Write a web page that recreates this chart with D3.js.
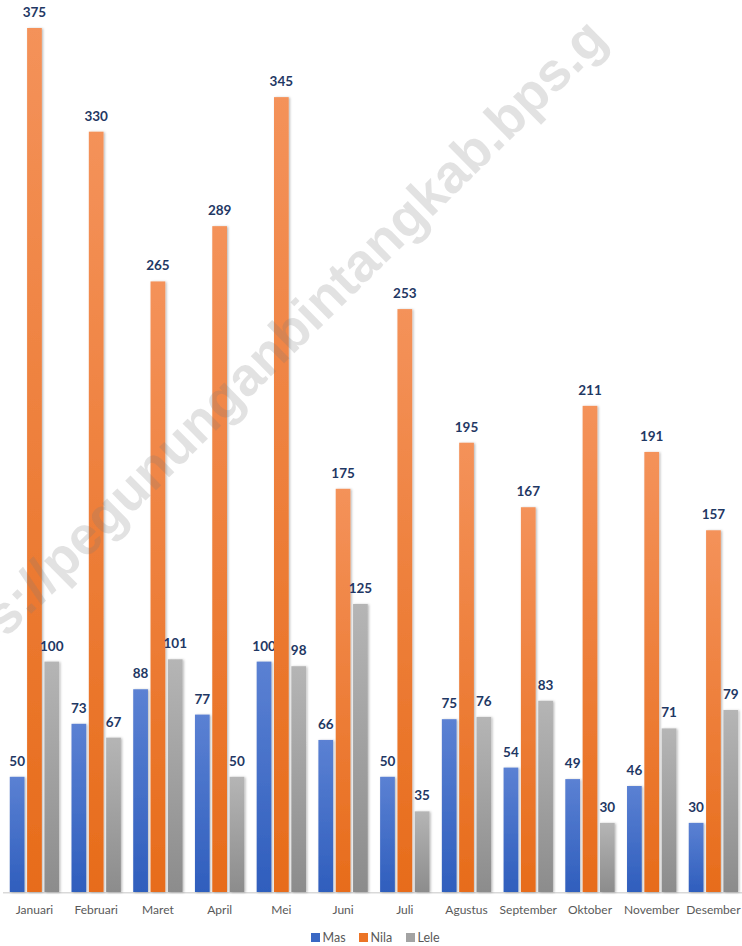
<!DOCTYPE html>
<html>
<head>
<meta charset="utf-8">
<script src="https://cdn.jsdelivr.net/npm/d3@7"></script>
<style>
  html, body { margin: 0; padding: 0; background: #fff; }
  svg { display: block; }
</style>
</head>
<body>
<svg id="chart" width="742" height="946"></svg>
<script>
// Monthly fish production by species
const months = ["Januari", "Februari", "Maret", "April", "Mei", "Juni", "Juli",
                "Agustus", "September", "Oktober", "November", "Desember"];
const seriesNames = ["Mas", "Nila", "Lele"];
const mas  = [50, 73, 88, 77, 100, 66, 50, 75, 54, 49, 46, 30];
const nila = [375, 330, 265, 289, 345, 175, 253, 195, 167, 211, 191, 157];
const lele = [100, 67, 101, 50, 98, 125, 35, 76, 83, 30, 71, 79];
const watermark = "https://pegununganbintangkab.bps.go.id";

const values = { Mas: mas, Nila: nila, Lele: lele };
const colors = {
  Mas:  ["#5B81D3", "#2F5EBD"],
  Nila: ["#F4925A", "#E76C1B"],
  Lele: ["#B5B5B5", "#8C8C8C"]
};
const legendColors = { Mas: "#3A68C4", Nila: "#EC7426", Lele: "#A3A3A3" };

const svg = d3.select("#chart");
const W = 742, baseY = 892;

const defs = svg.append("defs");
seriesNames.forEach(s => {
  const g = defs.append("linearGradient")
    .attr("id", "grad-" + s).attr("x1", 0).attr("y1", 0).attr("x2", 0).attr("y2", 1);
  g.append("stop").attr("offset", "0%").attr("stop-color", colors[s][0]);
  g.append("stop").attr("offset", "100%").attr("stop-color", colors[s][1]);
});
const shadow = defs.append("filter").attr("id", "shadow")
  .attr("x", "-30%").attr("y", "-5%").attr("width", "160%").attr("height", "110%");
shadow.append("feDropShadow").attr("dx", 1.2).attr("dy", 0.5)
  .attr("stdDeviation", 1.1).attr("flood-color", "#000").attr("flood-opacity", 0.28);
// watermark is cut just past ".g", measured along its own baseline
defs.append("clipPath").attr("id", "wm-clip")
  .append("rect").attr("x", -500).attr("y", -100).attr("width", 1452).attr("height", 200);

const x0 = d3.scaleBand().domain(months).range([3.6, 744.3])
  .paddingInner(0.2).paddingOuter(0.1);
const x1 = d3.scaleBand().domain(seriesNames).range([0, x0.bandwidth()])
  .paddingInner(0.15);
const y = d3.scaleLinear().domain([0, 375]).range([baseY, 28]);

// axis baseline
svg.append("line")
  .attr("x1", 3).attr("x2", W).attr("y1", baseY + 0.75).attr("y2", baseY + 0.75)
  .attr("stroke", "#D9D9D9").attr("stroke-width", 1.5);

const groups = svg.append("g").selectAll("g")
  .data(months).join("g")
  .attr("transform", m => `translate(${x0(m)},0)`);

const cells = groups.selectAll("g.cell")
  .data((m, i) => seriesNames.map(s => ({ s, v: values[s][i] })))
  .join("g").attr("class", "cell");

cells.append("rect")
  .attr("x", d => x1(d.s))
  .attr("width", x1.bandwidth())
  .attr("y", d => y(d.v))
  .attr("height", d => baseY - y(d.v))
  .attr("fill", d => `url(#grad-${d.s})`)
  .attr("filter", "url(#shadow)");

cells.append("text")
  .attr("x", d => x1(d.s) + x1.bandwidth() / 2)
  .attr("y", d => y(d.v) - 11)
  .attr("text-anchor", "middle")
  .attr("font-family", "Lato, sans-serif")
  .attr("font-weight", "bold")
  .attr("font-size", 13.5)
  .attr("fill", "#1F3864")
  .text(d => d.v);

// category axis
const xAxis = d3.axisBottom(x0).tickSize(0).tickPadding(0);
const ax = svg.append("g").attr("transform", `translate(0,${baseY})`).call(xAxis);
ax.select(".domain").remove();
ax.selectAll("text")
  .attr("y", 22)
  .attr("dy", 0)
  .attr("font-family", "Lato, sans-serif")
  .attr("font-size", 12)
  .attr("fill", "#595959");

// legend
const legendX = [311, 359, 406];
const legend = svg.append("g").selectAll("g")
  .data(seriesNames).join("g")
  .attr("transform", (s, i) => `translate(${legendX[i]},933)`);
legend.append("rect").attr("width", 9).attr("height", 9)
  .attr("fill", s => legendColors[s]);
legend.append("text")
  .attr("x", 11.5).attr("y", 8.8)
  .attr("font-family", "Lato, sans-serif")
  .attr("font-size", 12.5)
  .attr("fill", "#595959")
  .text(s => s);

// translucent diagonal watermark over the plot
svg.append("g")
  .attr("transform", "translate(-66.4,710.3) rotate(-44.7)")
  .append("text")
  .attr("clip-path", "url(#wm-clip)")
  .attr("font-family", "Liberation Sans, Arial, sans-serif")
  .attr("font-weight", "bold")
  .attr("font-size", 54)
  .attr("fill", "#7A7A7A")
  .attr("fill-opacity", 0.22)
  .text(watermark);
</script>
</body>
</html>
